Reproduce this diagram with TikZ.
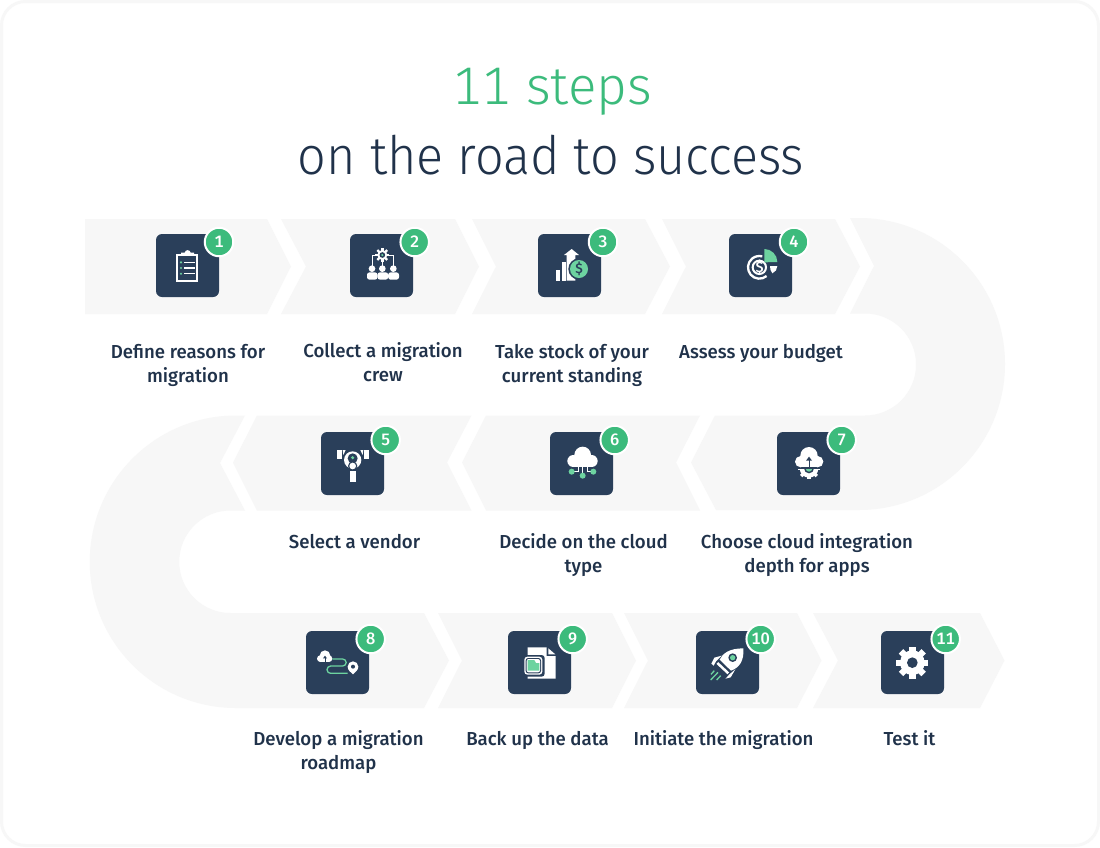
\documentclass[tikz,border=0pt]{standalone}
\usepackage{fontspec}
\setmainfont{Fira Sans}
\newfontfamily\labfont[FakeStretch=0.99]{Fira Sans Medium}
\newfontfamily\numfont[Numbers=Monospaced]{Fira Sans Medium}
\newfontfamily\titlefont[FakeStretch=0.95]{Fira Sans Light}
\newfontfamily\titlefontb[FakeStretch=1.0,Numbers=Monospaced]{Fira Sans Light}
\definecolor{road}{HTML}{F7F7F7}
\definecolor{navy}{HTML}{2A3F5A}
\definecolor{ink}{HTML}{20324A}
\definecolor{grn}{HTML}{3CBB7C}
\definecolor{lgrn}{HTML}{6DD3A0}
\tikzset{
  roadpart/.style={fill=road,draw=none},
  iconbox/.style={fill=navy,draw=none,rounded corners=6pt,minimum width=63pt,minimum height=63pt,inner sep=0pt},
  badge/.style={circle,fill=grn,draw=white,line width=2pt,minimum size=28.5pt,inner sep=0pt,text=white,font=\numfont\fontsize{16.5}{16.5}\selectfont},
  steplabel/.style={anchor=base,align=center,text=ink,inner sep=0pt,font=\labfont\fontsize{18.8}{24}\selectfont},
  titleline/.style={anchor=base,inner sep=0pt},
  zoomA/.style={shift={(#1)},x=0.33333pt,y=-0.33333pt},
  wl/.style={draw=white,line width=#1},
  gl/.style={draw=lgrn,line width=#1},
  dl/.style={draw=navy,line width=#1},
}
\newcommand{\cog}[5]{% x,y,rbody,router,halfwidth : eight teeth
  \fill[white] (#1,#2) circle (#3);
  \foreach \k in {0,1,2,3} \fill[white,shift={(#1,#2)},rotate=\k*45] (-#5,-#4) rectangle (#5,#4);
}
\begin{document}
\begin{tikzpicture}[x=1pt,y=-1pt]
\useasboundingbox (0,0) rectangle (1100,847);
\fill[white] (0,0) rectangle (1100,847);
\draw[road,line width=3pt,rounded corners=24pt] (1.5,1.5) rectangle (1098.5,845.5);

% road, first row
\fill[roadpart] (85,219) -- (267,219) -- (291,266.5) -- (267,314) -- (85,314) -- cycle;
\fill[roadpart] (281,219) -- (455,219) -- (479,266.5) -- (455,314) -- (281,314) -- (306,266.5) -- cycle;
\fill[roadpart] (472,219) -- (645,219) -- (670,266.5) -- (645,314) -- (472,314) -- (496,266.5) -- cycle;
\fill[roadpart] (662,219) -- (835,219) -- (860,266.5) -- (835,314) -- (662,314) -- (686,266.5) -- cycle;
% right U-turn
\fill[roadpart] (850,218) -- (859,218) arc[start angle=-90,end angle=90,radius=146] -- (716,510) -- (691,462.5) -- (715,415.5) -- (865,415.5) arc[start angle=90,end angle=-90,radius=51] -- (850,313.5) -- (874,266) -- cycle;
% second row
\fill[roadpart] (700,415.5) -- (676,462.5) -- (700,510.5) -- (486,510.5) -- (462,462.5) -- (486,415.5) -- cycle;
\fill[roadpart] (471.5,415.5) -- (447,462.5) -- (471.5,510.5) -- (257,510.5) -- (233,462.5) -- (257,415.5) -- cycle;
% left U-turn
\fill[roadpart] (245,415.5) -- (236,415.5) arc[start angle=-90,end angle=-270,radius=146.25] -- (424,708) -- (449,660.5) -- (424,613) -- (230.5,613) arc[start angle=90,end angle=270,radius=51.25] -- (245,510.5) -- (220,463) -- cycle;
% third row
\fill[roadpart] (438,613) -- (612,613) -- (636,660.5) -- (612,708) -- (438,708) -- (462,660.5) -- cycle;
\fill[roadpart] (624,613) -- (797,613) -- (821.5,660.5) -- (797,708) -- (624,708) -- (648,660.5) -- cycle;
\fill[roadpart] (813,613) -- (980,613) -- (1004.5,660.5) -- (980,708) -- (813,708) -- (838,660.5) -- cycle;

% title
\node[titleline,text=grn,font=\titlefontb\fontsize{53}{60}\selectfont] (t1) at (552,104) {11 steps};
\node[titleline,text=ink,font=\titlefont\fontsize{53}{60}\selectfont] (t2) at (551,174) {on the road to success};

% icon boxes
\node[iconbox] (i1) at (187.5,265.5) {};
\node[iconbox] (i2) at (381.5,265.5) {};
\node[iconbox] (i3) at (569.5,265.5) {};
\node[iconbox] (i4) at (760.5,265.5) {};
\node[iconbox] (i5) at (352.5,463.5) {};
\node[iconbox] (i6) at (581.5,463.5) {};
\node[iconbox] (i7) at (808.5,463.5) {};
\node[iconbox] (i8) at (337.5,662.5) {};
\node[iconbox] (i9) at (539.5,662.5) {};
\node[iconbox] (i10) at (727.5,662.5) {};
\node[iconbox] (i11) at (912.5,662.5) {};

% icon 1: clipboard
\begin{scope}[zoomA={80,210}]
\draw[wl=2pt] (291,134) rectangle (352,213);
\fill[white] (303,134) -- (303,128) -- (314,128) .. controls (316,118) and (330,118) .. (332,128) -- (342,128) -- (342,137) -- (303,137) -- cycle;
\foreach \y in {157,174,191} {
  \draw[wl=1.3pt] (313,\y) -- (344,\y);
  \fill[lgrn] (303,\y) circle (3.5);
}
% icon 2: crew
\draw[wl=1pt] (876,170) -- (876,135) -- (907,135) -- (907,170);
\draw[wl=1pt] (907,135) -- (940,135) -- (940,170);
\cog{907}{135}{15}{21}{3.5}
\fill[navy] (907,135) circle (8.5);
\fill[lgrn] (907,135) circle (3.5);
\foreach \x in {876,907,940} \fill[white] (\x,176) circle (10);
\fill[white,rounded corners=2.5pt] (861,209) -- (861,187) -- (892.5,187) -- (892.5,209) -- cycle;
\fill[white,rounded corners=2.5pt] (892.5,209) -- (892.5,187) -- (924.5,187) -- (924.5,209) -- cycle;
\fill[white,rounded corners=2.5pt] (924.5,209) -- (924.5,187) -- (957,187) -- (957,209) -- cycle;
\end{scope}

\begin{scope}[zoomA={500,210}]
% icon 3: growth
\fill[white] (168,180) rectangle (180,212);
\fill[white] (185,157) rectangle (197,212);
\fill[white] (200,212) -- (200,135) -- (192,135) -- (215,117) -- (237,135) -- (226,135) -- (226,212) -- cycle;
\fill[navy] (237,177) circle (32);
\fill[lgrn] (237,177) circle (27);
\node[inner sep=0pt,text=navy,font=\labfont\fontsize{14}{14}\selectfont] (d3) at (237,177) {\$};
% icon 4: budget
\draw[wl=2.3pt] (778,172) ++(50:34) arc[start angle=50,end angle=285,radius=34];
\draw[wl=2pt] (778,172) circle (20);
\node[inner sep=0pt,text=white,font=\labfont\fontsize{15}{15}\selectfont] (d4) at (779,172) {\$};
\fill[lgrn] (793,157) -- (793,117) arc[start angle=-90,end angle=0,radius=39] -- cycle;
\fill[white] (810,168) -- (832,168) .. controls (832,178) and (826,186) .. (817,190) .. controls (812,184) and (810,176) .. (810,168) -- cycle;
\end{scope}

% icons 5 and 8
\begin{scope}[zoomA={80,405}]
\fill[white] (771,135) -- (785,135) -- (785,162) -- (771,162) -- cycle;
\fill[white] (788,135) -- (797,135) -- (790,150) -- cycle;
\fill[white] (867,135) -- (853,135) -- (853,162) -- (867,162) -- cycle;
\fill[white] (850,135) -- (841,135) -- (848,150) -- cycle;
\fill[white] (818,165) circle (26);
\fill[navy] (818,160) circle (15);
\fill[lgrn] (818,158) circle (5);
\fill[navy] (818,183) circle (14);
\fill[white] (818,183) circle (10);
\fill[white] (809,197) rectangle (828,232);
% icon 8
\fill[white] (735,752) circle (16);
\fill[white] (721,761) circle (10);
\fill[white] (747,761) circle (10);
\fill[white] (721,761) rectangle (747,771);
\draw[dl=0.9pt] (735,771) -- (735,757);
\fill[navy] (729,760) -- (735,752) -- (741,760) -- cycle;
\draw[gl=1.3pt] (757,762) -- (788,762) arc[start angle=-90,end angle=90,radius=10.5] -- (752,783) arc[start angle=-90,end angle=-270,radius=11] -- (803,805);
\fill[white] (803,785) arc[start angle=180,end angle=360,radius=16] .. controls (835,795) and (825,802) .. (819,808) .. controls (812,802) and (803,795) .. (803,785) -- cycle;
\fill[navy] (819,785) circle (6);
\end{scope}

% icon 6
\begin{scope}[zoomA={440,405}]
\fill[white] (428,150) circle (25);
\fill[white] (400,168) circle (18);
\fill[white] (455,168) circle (18);
\fill[white] (400,160) rectangle (455,186);
\draw[wl=0.9pt] (416,186) -- (416,200) -- (395,200);
\draw[wl=0.9pt] (428,186) -- (428,212);
\draw[wl=0.9pt] (441,186) -- (441,200) -- (460,200);
\fill[lgrn] (395,200) circle (9);
\fill[lgrn] (428,212) circle (9);
\fill[lgrn] (460,200) circle (9);
\end{scope}

% icon 7
\begin{scope}[zoomA={680,210}]
\begin{scope}
\clip (345,777) rectangle (430,815);
\cog{387}{775}{28}{33}{5}
\fill[navy] (387,775) circle (15);
\fill[lgrn] (387,775) circle (10);
\end{scope}
\fill[white] (387,737) circle (26);
\fill[white] (362,755) circle (17);
\fill[white] (413,755) circle (17);
\fill[white] (362,745) rectangle (413,772);
\draw[dl=1pt] (387,776) -- (387,745);
\fill[navy] (378,752) -- (387,740) -- (396,752) -- cycle;
\end{scope}

% icon 9
\begin{scope}[zoomA={290,620}]
\fill[white] (713,82) -- (770,82) -- (770,108) -- (797,108) -- (797,176) -- (713,176) -- cycle;
\fill[white] (775,85) -- (796,103) -- (775,103) -- cycle;
\fill[navy,rounded corners=3pt] (700,105) rectangle (764,170);
\fill[white,rounded corners=3pt] (703,110) rectangle (757,164);
\fill[navy,rounded corners=2.5pt] (707,114) rectangle (753,160);
\fill[white,rounded corners=2pt] (710,117) rectangle (750,157);
\fill[lgrn] (713,120) -- (733,120) -- (738,129) -- (748,129) -- (748,152) -- (713,152) -- cycle;
\end{scope}

% icons 10 and 11
\begin{scope}[zoomA={680,620}]
\fill[white] (190,85) .. controls (148,85) and (128,100) .. (119,119) -- (153,152) .. controls (178,143) and (193,122) .. (190,85) -- cycle;
\draw[wl=2.5pt] (112,129) -- (145,160);
\fill[navy] (158,113) circle (13);
\fill[lgrn] (158,113) circle (8);
\fill[white] (94,131) -- (103,113) -- (125,107) -- (108,124) -- (101,137) -- cycle;
\fill[white] (136,176) -- (152,172) -- (166,148) -- (147,164) -- (142,170) -- cycle;
\draw[gl=1.3pt] (93,163) -- (103,152);
\draw[gl=1.3pt] (92,180) -- (114,157);
\draw[gl=1.3pt] (110,180) -- (122,167);
\cog{697}{128}{37}{48}{9.5}
\fill[navy] (697,128) circle (16);
\end{scope}

% badges
\node[badge] (b1) at (219,242) {1};
\node[badge] (b2) at (414.7,242) {2};
\node[badge] (b3) at (603,242) {3};
\node[badge] (b4) at (794,242) {4};
\node[badge] (b5) at (385.7,440) {5};
\node[badge] (b6) at (614.7,440) {6};
\node[badge] (b7) at (841.7,440) {7};
\node[badge] (b8) at (370.7,639) {8};
\node[badge] (b9) at (572.7,639) {9};
\node[badge] (b10) at (760.7,639) {10};
\node[badge] (b11) at (945.7,639) {11};

% labels (a two-line node sits on the baseline of its last line)
\node[steplabel] (l1) at (188,382) {Define reasons for\\migration};
\node[steplabel] (l2) at (383,381) {Collect a migration\\crew};
\node[steplabel] (l3) at (572,382) {Take stock of your\\current standing};
\node[steplabel] (l4) at (761,358) {Assess your budget};
\node[steplabel] (l5) at (354.5,548) {Select a vendor};
\node[steplabel] (l6) at (583.5,572) {Decide on the cloud\\type};
\node[steplabel] (l7) at (807,572) {Choose cloud integration\\depth for apps};
\node[steplabel] (l8) at (338.5,769) {Develop a migration\\roadmap};
\node[steplabel] (l9) at (537.5,745) {Back up the data};
\node[steplabel] (l10) at (723.5,745) {Initiate the migration};
\node[steplabel] (l11) at (909.5,745) {Test it};
\end{tikzpicture}
\end{document}
